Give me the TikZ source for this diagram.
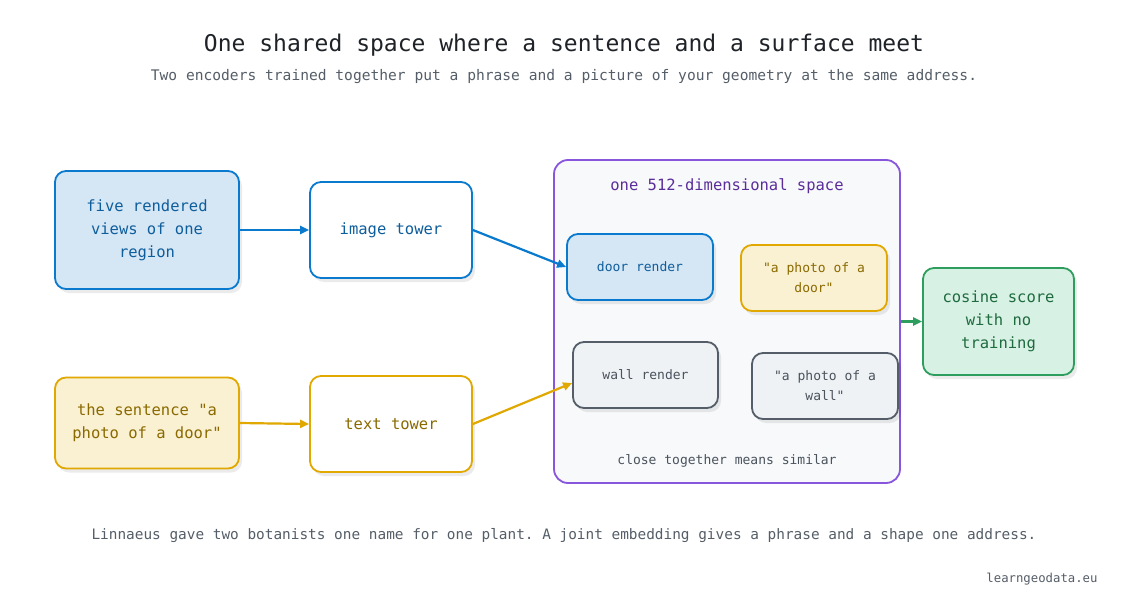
\documentclass[tikz,border=0pt]{standalone}
\usepackage{fontspec}
\setmonofont{DejaVu Sans Mono}
\usetikzlibrary{arrows.meta,shadows}
\definecolor{bluef}{HTML}{D5E6F5}\definecolor{blued}{HTML}{0A7ACF}\definecolor{bluet}{HTML}{0F5E9C}
\definecolor{yelf}{HTML}{FAF0D2}\definecolor{yeld}{HTML}{E0A800}\definecolor{yelt}{HTML}{8A6A00}
\definecolor{grayf}{HTML}{EEF2F5}\definecolor{grayd}{HTML}{555E68}\definecolor{grayt}{HTML}{4A525C}
\definecolor{grnf}{HTML}{D8F1E5}\definecolor{grnd}{HTML}{2E9E5E}\definecolor{grnt}{HTML}{1E6B3E}
\definecolor{purd}{HTML}{8855DD}\definecolor{purt}{HTML}{5B2D9A}\definecolor{spacef}{HTML}{F7F9FB}
\definecolor{titlec}{HTML}{1F2328}\definecolor{subc}{HTML}{555E68}
\begin{document}
\begin{tikzpicture}[x=1pt,y=-1pt,
 font=\ttfamily,
 box/.style={draw,line width=1.8pt,rounded corners=11pt,align=center,inner sep=0pt,
   drop shadow={shadow xshift=3pt,shadow yshift=-4pt,fill=black,opacity=0.08}},
 bl/.style={box,fill=bluef,draw=blued,text=bluet},
 yl/.style={box,fill=yelf,draw=yeld,text=yelt},
 gr/.style={box,fill=grayf,draw=grayd,text=grayt},
 gn/.style={box,fill=grnf,draw=grnd,text=grnt},
 big/.style={font=\ttfamily\fontsize{15.5}{23}\selectfont},
 small/.style={font=\ttfamily\fontsize{13}{20}\selectfont},
 arr/.style={line width=2.2pt,-{Triangle[length=9pt,width=8pt]}}]
\path[use as bounding box,fill=white] (0,0) rectangle (1129,613);
\node[text=titlec,font=\ttfamily\fontsize{23}{26}\selectfont] (title) at (564,45) {One shared space where a sentence and a surface meet};
\node[text=subc,font=\ttfamily\fontsize{14.6}{17}\selectfont] (sub) at (564,77) {Two encoders trained together put a phrase and a picture of your geometry at the same address.};
\node[bl,big,minimum width=184pt,minimum height=118pt] (A) at (147,230) {five rendered\\views of one\\region};
\node[box,big,fill=white,draw=blued,text=bluet,minimum width=162pt,minimum height=96pt] (IT) at (391,230) {image tower};
\node[yl,big,minimum width=184pt,minimum height=91pt] (S) at (147,423) {the sentence "a\\photo of a door"};
\node[box,big,fill=white,draw=yeld,text=yelt,minimum width=162pt,minimum height=96pt] (TT) at (391,424) {text tower};
\node[draw=purd,fill=spacef,line width=1.8pt,rounded corners=14pt,minimum width=346pt,minimum height=323pt,inner sep=0pt] (SP) at (727,321.5) {};
\node[text=purt,big] (SPL) at (727,186) {one 512-dimensional space};
\node[bl,small,minimum width=146pt,minimum height=66pt] (DR) at (640,267) {door render};
\node[yl,small,minimum width=146pt,minimum height=66pt] (PD) at (814,278) {"a photo of a\\door"};
\node[gr,small,minimum width=145pt,minimum height=66pt] (WR) at (645.5,375) {wall render};
\node[gr,small,minimum width=146pt,minimum height=66pt] (PW) at (825,386) {"a photo of a\\wall"};
\node[text=grayt,small] (CT) at (727,461) {close together means similar};
\node[gn,big,minimum width=151pt,minimum height=107pt] (C) at (998.5,321.5) {cosine score\\with no\\training};
\node[text=subc,font=\ttfamily\fontsize{14.4}{17}\selectfont] (foot) at (564,536) {Linnaeus gave two botanists one name for one plant. A joint embedding gives a phrase and a shape one address.};
\node[text=subc,font=\ttfamily\fontsize{12.3}{15}\selectfont] (brand) at (1042,579) {learngeodata.eu};
\draw[arr,blued] (A.east) -- (IT.west);
\draw[arr,blued] (IT.east) -- (DR.west);
\draw[arr,yeld] (S.east) -- (TT.west);
\draw[arr,yeld] (TT.east) -- ([yshift=-8pt]WR.west);
\draw[arr,grnd] (SP.east) -- (C.west);
\end{tikzpicture}
\end{document}
